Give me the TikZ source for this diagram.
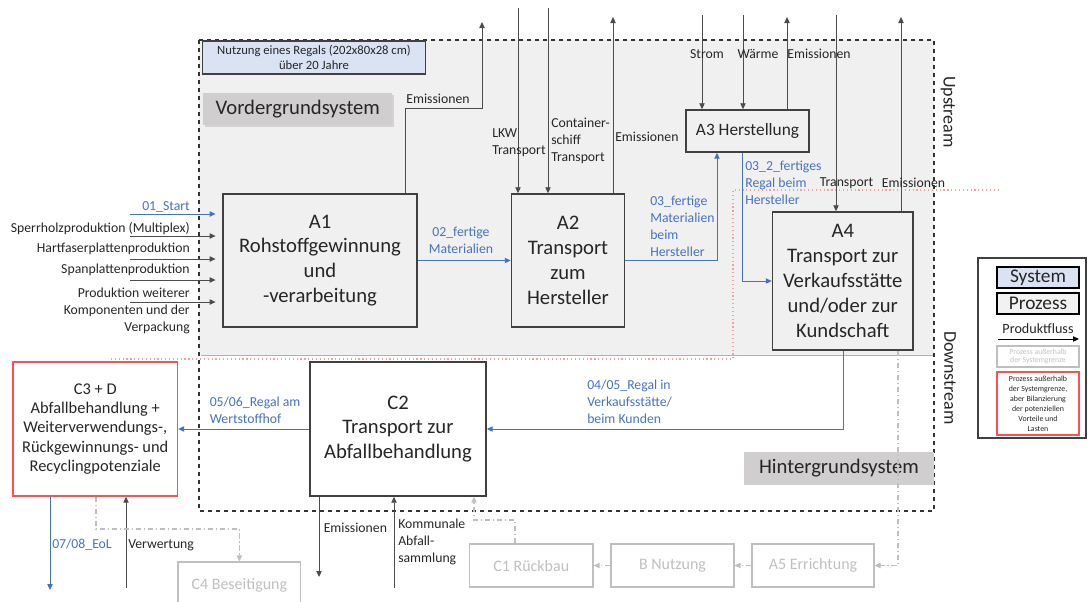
\documentclass[tikz,border=0pt]{standalone}
\usepackage{fontspec}
\setmainfont{Carlito}
\usepackage{xcolor}
\usetikzlibrary{positioning,calc,arrows.meta,shadows}

\definecolor{flowblue}{HTML}{4472C4}
\definecolor{boxline}{HTML}{404040}
\definecolor{areagray}{HTML}{F0F0F0}
\definecolor{labelgray}{HTML}{D0CECE}
\definecolor{sysblue}{HTML}{DAE3F3}
\definecolor{outgray}{HTML}{BFBFBF}
\definecolor{redline}{HTML}{FF4F4F}
\definecolor{reddot}{HTML}{F2A0A0}

\tikzset{
  proc/.style={draw=boxline, line width=1.1pt, align=center, inner sep=0pt, text=black!85,
    font=\fontsize{15.5}{18.6}\selectfont},
  outproc/.style={draw=outgray, line width=0.8pt, text=outgray, inner sep=0pt,
    font=\fontsize{12}{14}\selectfont},
  syslabel/.style={fill=labelgray, inner sep=0pt, text=black!85, font=\fontsize{15.5}{18.6}\selectfont},
  lbl/.style={inner sep=0pt, text=black!85, font=\fontsize{10.3}{12.75}\selectfont},
  bluelbl/.style={lbl, text=flowblue},
  flow/.style={draw=black!70, line width=0.7pt, -{Triangle[length=4.5pt,width=4pt]}},
  blueflow/.style={draw=flowblue, line width=0.75pt, -{Triangle[length=4.5pt,width=4pt]}},
  outflow/.style={draw=outgray, line width=0.8pt, dash pattern=on 4pt off 2pt on 1pt off 2pt,
    -{Triangle[length=4.5pt,width=4pt]}},
}

\begin{document}
\begin{tikzpicture}[x=0.75pt,y=-0.75pt]
    \useasboundingbox (0,0) rectangle (1088,601);

    % Vordergrund area
    \fill[areagray] (199,40) rectangle (934,355);
    \draw[black!30, line width=1.3pt] (201,355.5) -- (934,355.5);
    % Upstream / Downstream border
    \draw[reddot, dotted, line width=0.9pt] (111,359) -- (733,359) -- (733,190) -- (998,190);
    % System boundary
    \draw[dashed, black!80, line width=0.9pt] (199,40) rectangle (934,511);

    \node[draw=boxline, fill=sysblue, line width=0.8pt, minimum width=167pt, minimum height=24.75pt,
      align=center, inner sep=0pt, text=black!85, font=\fontsize{9.5}{11.3}\selectfont] (nutzung) at (314,57.5)
      {Nutzung eines Regals (202x80x28 cm)\\über 20 Jahre};
    \node[syslabel, minimum width=141.5pt, minimum height=24pt,
      drop shadow={shadow xshift=1.2pt, shadow yshift=-1.2pt, opacity=0.25}] (vorder) at (297.75,109) {Vordergrundsystem};
    \node[syslabel, minimum width=142.5pt, minimum height=24.75pt] (hinter) at (839,468.5) {Hintergrundsystem};

    \node[rotate=-90, text=black!85, font=\fontsize{13.5}{16}\selectfont] (up) at (948,112) {Upstream};
    \node[rotate=-90, text=black!85, font=\fontsize{13.5}{16}\selectfont] (down) at (950,378) {Downstream};

    % Processes
    \node[proc, fill=areagray, minimum width=145.5pt, minimum height=99.75pt] (a1) at (320,260.5)
      {A1\\Rohstoffgewinnung\\und\\-verarbeitung};
    \node[proc, fill=areagray, minimum width=84.75pt, minimum height=99.75pt] (a2) at (568,260.5)
      {A2\\Transport\\zum\\Hersteller};
    \node[proc, fill=areagray, minimum width=92.25pt, minimum height=31.5pt,
      font=\fontsize{13}{15.6}\selectfont] (a3) at (747.5,131) {A3 Herstellung};
    \node[proc, fill=areagray, minimum width=105.4pt, minimum height=103.5pt] (a4) at (842.75,281)
      {A4\\Transport zur\\Verkaufsstätte\\und/oder zur\\Kundschaft};
    \node[proc, fill=white, minimum width=132pt, minimum height=100.5pt] (c2) at (398,429)
      {C2\\Transport zur\\Abfallbehandlung};
    \node[proc, fill=white, draw=redline, line width=1pt, minimum width=123.4pt, minimum height=100.5pt,
      font=\fontsize{12.3}{14.5}\selectfont] (c3) at (95.25,429)
      {C3 + D\\Abfallbehandlung +\\Weiterverwendungs-,\\Rückgewinnungs- und\\Recyclingpotenziale};

    % Outside the system boundary
    \node[outproc, minimum width=92pt, minimum height=34.5pt] (c4) at (239.35,585) {C4 Beseitigung};
    \node[outproc, minimum width=92.6pt, minimum height=32.25pt] (c1) at (531.25,565.5) {C1 Rückbau};
    \node[outproc, minimum width=92.25pt, minimum height=32.25pt] (bnutz) at (672.5,565.5) {B Nutzung};
    \node[outproc, minimum width=91.5pt, minimum height=32.25pt] (a5) at (813,565.5) {A5 Errichtung};

    % Inputs A1
    \coordinate (in1) at (130,214);
    \draw[blueflow, shorten >=5pt] (in1) -- (in1 -| a1.west);
    \foreach \y/\n in {236/in2, 259/in3, 280/in4, 302/in5} {
        \coordinate (\n) at (130,\y);
        \draw[flow, shorten >=5pt] (\n) -- (\n -| a1.west);
    }
    \node[bluelbl, anchor=east] (l01) at (190,207) {01\_Start};
    \node[lbl, anchor=east] (lsperr) at (190,229) {Sperrholzproduktion (Multiplex)};
    \node[lbl, anchor=east] (lhart) at (190,249) {Hartfaserplattenproduktion};
    \node[lbl, anchor=east] (lspan) at (190,270) {Spanplattenproduktion};
    \node[lbl, anchor=east, align=right] (lweit) at (190,310.5)
      {Produktion weiterer\\Komponenten und der\\Verpackung};

    % Emissionen A1
    \coordinate (emA1) at (482,22);
    \draw[flow] (a1.north -| 405,0) |- (482,108) -- (emA1);
    \node[lbl] (lemA1) at (438,99) {Emissionen};

    % Transport to A2
    \coordinate (lkw) at (518,8);
    \coordinate (schiff) at (548,8);
    \coordinate (emA2) at (613,17);
    \draw[flow] (lkw) -- (lkw |- a2.north);
    \draw[flow] (schiff) -- (schiff |- a2.north);
    \draw[flow] (a2.north -| emA2) -- (emA2);
    \node[lbl, anchor=west, align=left] (llkw) at (492,142.5) {LKW\\Transport};
    \node[lbl, anchor=west, align=left] (lschiff) at (551,141) {Container-\\schiff\\Transport};
    \node[lbl, anchor=west] (lemA2) at (615,137) {Emissionen};

    % A3 in/out
    \foreach \x/\n in {702/strom, 743/waerme} {
        \coordinate (\n) at (\x,15);
        \draw[flow] (\n) -- (\n |- a3.north);
    }
    \coordinate (emA3) at (787,17);
    \draw[flow] (a3.north -| emA3) -- (emA3);
    \node[lbl] (lstrom) at (707,54) {Strom};
    \node[lbl] (lwaerme) at (758,54) {Wärme};
    \node[lbl] (lemA3) at (819,54) {Emissionen};

    % A4 in/out
    \coordinate (trA4) at (836,15);
    \coordinate (emA4) at (901,17);
    \draw[flow] (trA4) -- (trA4 |- a4.north);
    \draw[flow] (a4.north -| emA4) -- (emA4);
    \node[lbl] (ltrA4) at (846.5,183) {Transport};
    \node[lbl] (lemA4) at (913.5,183) {Emissionen};

    % Product flow
    \draw[blueflow] (a1) -- (a2);
    \node[bluelbl, align=center] (l02) at (461,240) {02\_fertige\\Materialien};
    \draw[blueflow] (a2.east) -| (a3.south -| 717,0);
    \node[bluelbl, anchor=west, align=left] (l03) at (650,226) {03\_fertige\\Materialien\\beim\\Hersteller};
    \draw[blueflow] (a3.south -| 742,0) |- (a4.west);
    \node[bluelbl, anchor=west, align=left] (l032) at (745,183) {03\_2\_fertiges\\Regal beim\\Hersteller};
    \draw[blueflow] (a4.south -| 843,0) |- (c2.east);
    \node[bluelbl, anchor=west, align=left] (l045) at (587,401.5) {04/05\_Regal in\\Verkaufsstätte/\\beim Kunden};
    \draw[blueflow] (c2) -- (c3);
    \node[bluelbl, anchor=west, align=left] (l056) at (209.5,410.5) {05/06\_Regal am\\Wertstoffhof};

    % End of life
    \coordinate (eol) at (50,590);
    \coordinate (verw) at (126,588);
    \coordinate (emC2) at (319,577);
    \coordinate (komm) at (394,588);
    \draw[blueflow] (c3.south -| eol) -- (eol);
    \draw[flow] (verw) -- (verw |- c3.south);
    \draw[flow] (c2.south -| emC2) -- (emC2);
    \draw[flow] (komm) -- (komm |- c2.south);
    \node[bluelbl, anchor=west] (leol) at (52,545) {07/08\_EoL};
    \node[lbl, anchor=west] (lverw) at (128,545) {Verwertung};
    \node[lbl, anchor=west] (lemC2) at (323.5,528) {Emissionen};
    \node[lbl, anchor=west, align=left] (lkomm) at (398,542) {Kommunale\\Abfall-\\sammlung};

    % Flows outside the boundary
    \draw[outflow] (c3.south -| 96,0) |- (c4.north |- 0,529) -- (c4.north);
    \draw[outflow] (c1.north -| 515,0) |- (474,520) -- (c2.south -| 474,0);
    \draw[outflow] (bnutz) -- (c1);
    \draw[outflow] (a5) -- (bnutz);
    \draw[outflow] (a4.south -| 898,0) |- (a5.east);

    % Legend
    \node[draw=boxline, line width=0.9pt, minimum width=81pt, minimum height=135pt] (legend) at (1032,348) {};
    \node[draw=black, fill=sysblue, line width=1pt, minimum width=61.5pt, minimum height=15.75pt, inner sep=0pt,
      text=black!85, font=\fontsize{14.5}{16}\selectfont] (lsys) at (1038,277.5) {System};
    \node[draw=black, fill=black!5, line width=1.2pt, minimum width=61.5pt, minimum height=15.75pt, inner sep=0pt,
      text=black!85, font=\fontsize{14.5}{16}\selectfont] (lproc) at (1038,303.5) {Prozess};
    \node[inner sep=0pt, text=black!85, font=\fontsize{10.6}{12}\selectfont] (lfluss) at (1038,329) {Produktfluss};
    \coordinate (lf1) at (998,339);
    \coordinate (lf2) at (1079,339);
    \draw[flow, draw=black] (lf1) -- (lf2);
    \node[draw=outgray, line width=0.8pt, minimum width=61.5pt, minimum height=15.75pt, inner sep=0pt, align=center,
      text=outgray, font=\fontsize{5.8}{6.6}\selectfont] (lout) at (1038,356.5) {Prozess außerhalb\\der Systemgrenze};
    \node[draw=redline, line width=1pt, minimum width=61.5pt, minimum height=47.25pt, inner sep=0pt, align=center,
      text=black!85, font=\fontsize{5.9}{7.5}\selectfont] (lred) at (1038,403.5)
      {Prozess außerhalb\\der Systemgrenze,\\aber Bilanzierung\\der potenziellen\\Vorteile und\\Lasten};
\end{tikzpicture}
\end{document}
